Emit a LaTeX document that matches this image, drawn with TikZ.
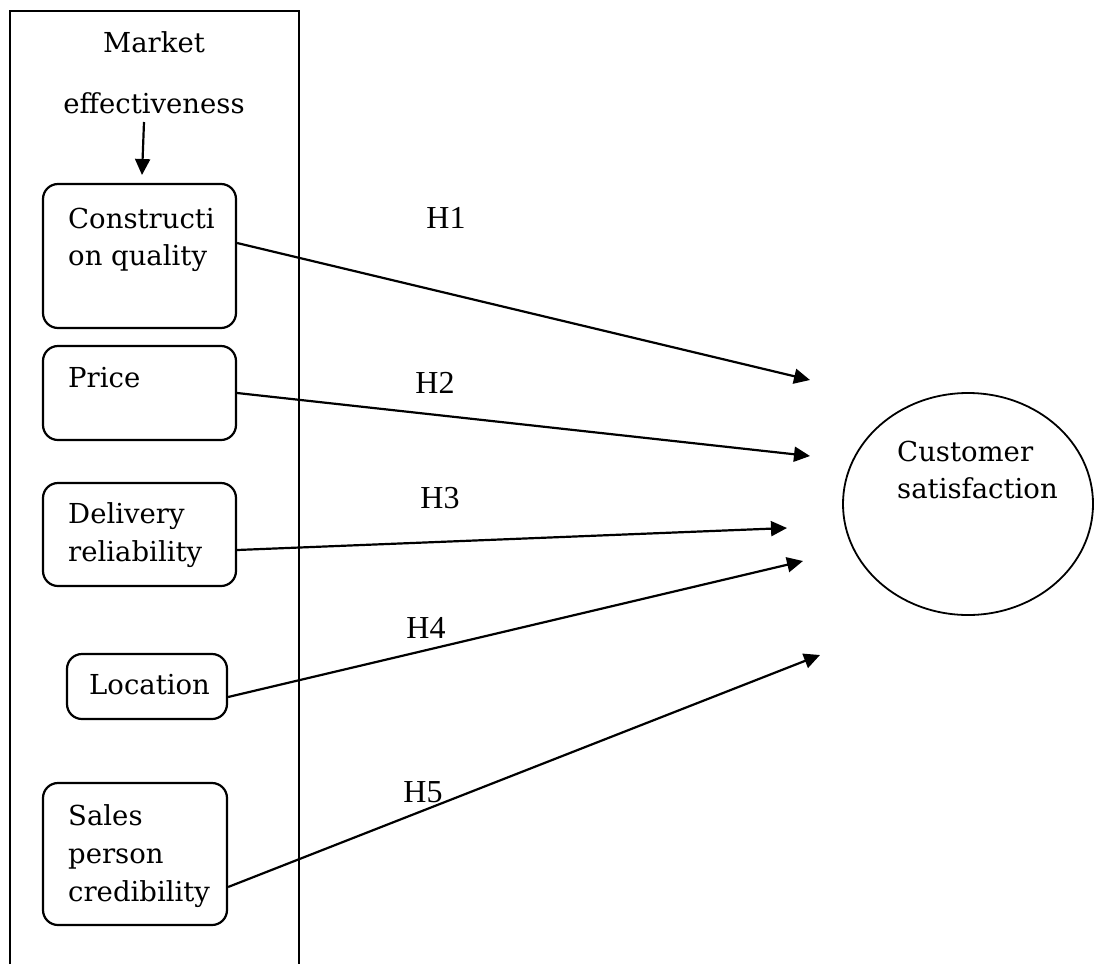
\documentclass[tikz,border=0pt]{standalone}
\usepackage{fontspec}
\setmainfont{DejaVu Serif}
\newfontfamily\hfont{Liberation Serif}
\usetikzlibrary{arrows.meta,shapes.geometric}
\tikzset{
  boxnode/.style={draw, line width=2.2pt, rounded corners=15pt, inner sep=0pt},
  txt/.style={inner sep=0pt, anchor=base west, font=\fontsize{27.5}{38}\selectfont},
  ctxt/.style={inner sep=0pt, anchor=base, font=\fontsize{27.5}{38}\selectfont},
  hlab/.style={inner sep=0pt, anchor=base, font=\hfont\fontsize{32}{36}\selectfont},
  conn/.style={line width=2.2pt, -{Triangle[length=16pt,width=15pt]}},
  frame/.style={line width=1.8pt}
}
\begin{document}
\begin{tikzpicture}[x=1pt,y=-1pt]
\useasboundingbox (0,0) rectangle (1094,964);
% outer frame
\draw[frame] (10,964) -- (10,11) -- (299,11) -- (299,964);
% header
\node[ctxt] (mkt) at (154,52) {Market};
\node[ctxt] (eff) at (154,113) {effectiveness};
% boxes
\node[boxnode, minimum width=193pt, minimum height=144pt] (cq) at (139.5,256) {};
\node[boxnode, minimum width=193pt, minimum height=94pt] (pr) at (139.5,393) {};
\node[boxnode, minimum width=193pt, minimum height=103pt] (dr) at (139.5,534.5) {};
\node[boxnode, minimum width=160pt, minimum height=65pt] (lo) at (147,686.5) {};
\node[boxnode, minimum width=184pt, minimum height=142pt] (sp) at (135,854) {};
% box texts
\node[txt] (cq1) at (68,228) {Constructi};
\node[txt] (cq2) at (68,265) {on quality};
\node[txt] (pr1) at (68,387) {Price};
\node[txt] (dr1) at (68,523) {Delivery};
\node[txt] (dr2) at (68,561) {reliability};
\node[txt] (lo1) at (89,694) {Location};
\node[txt] (sp1) at (68,825) {Sales};
\node[txt] (sp2) at (68,863) {person};
\node[txt] (sp3) at (68,901) {credibility};
% customer satisfaction
\node[draw, ellipse, line width=1.8pt, minimum width=250pt, minimum height=222pt, inner sep=0pt] (cs) at (968,504) {};
\node[txt] (cs1) at (897,461) {Customer};
\node[txt] (cs2) at (897,498) {satisfaction};
% arrow tips (free ends)
\coordinate (mk) at (142,175);
\coordinate (t1) at (810,380);
\coordinate (t2) at (810,456);
\coordinate (t3) at (787,528);
\coordinate (t4) at (803,561);
\coordinate (t5) at (820,655);
% connectors
\draw[conn] ([xshift=-10pt, yshift=-9pt]eff.base) -- (mk);
\draw[conn] ([yshift=13pt]cq.east) -- (t1);
\draw[conn] (pr.east) -- (t2);
\draw[conn] ([yshift=-15.5pt]dr.east) -- (t3);
\draw[conn] ([yshift=-10.5pt]lo.east) -- (t4);
\draw[conn] ([yshift=-33pt]sp.east) -- (t5);
% hypothesis labels
\node[hlab] (h1) at (446,228) {H1};
\node[hlab] (h2) at (435,393) {H2};
\node[hlab] (h3) at (440,508) {H3};
\node[hlab] (h4) at (426,638) {H4};
\node[hlab] (h5) at (423,802) {H5};
\end{tikzpicture}
\end{document}
